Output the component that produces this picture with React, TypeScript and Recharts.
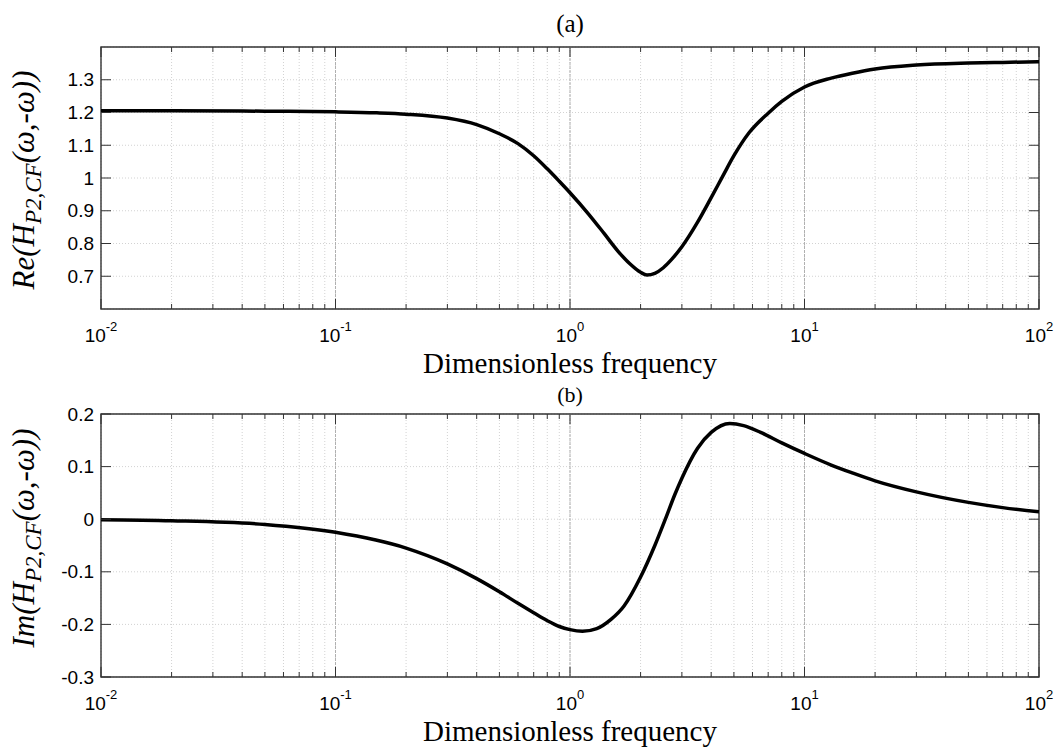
import {
  CartesianGrid,
  Line,
  LineChart,
  ReferenceArea,
  ReferenceLine,
  XAxis,
  YAxis,
} from "recharts";

// Re(H) curve, panel (a)
const reFreq = [
  0.01, 0.02, 0.05, 0.1, 0.15, 0.2, 0.3, 0.4, 0.5, 0.6, 0.7, 0.8, 0.9, 1.0,
  1.2, 1.4, 1.6, 1.8, 2.0, 2.13, 2.3, 2.5, 2.7, 3.0, 3.5, 4.0, 4.5, 5.0, 5.8,
  7, 8, 10, 13, 16, 20, 30, 50, 70, 100,
];
const reValues = [
  1.205, 1.205, 1.204, 1.202, 1.199, 1.195, 1.183, 1.163, 1.135, 1.105, 1.068,
  1.028, 0.99, 0.955, 0.89, 0.83, 0.777, 0.738, 0.712, 0.704, 0.709, 0.726,
  0.75, 0.79, 0.865, 0.94, 1.008, 1.068, 1.138, 1.198, 1.234, 1.278, 1.305,
  1.32, 1.333, 1.345, 1.351, 1.353, 1.355,
];

// Im(H) curve, panel (b)
const imFreq = [
  0.01, 0.02, 0.05, 0.1, 0.2, 0.3, 0.4, 0.5, 0.6, 0.7, 0.8, 0.9, 1.0, 1.13,
  1.3, 1.5, 1.7, 2.0, 2.3, 2.55, 2.8, 3.0, 3.5, 4.0, 4.8, 5.5, 6.5, 8, 10, 13,
  16, 20, 30, 50, 70, 100,
];
const imValues = [
  -0.001, -0.003, -0.01, -0.025, -0.055, -0.085, -0.113, -0.138, -0.16, -0.178,
  -0.193, -0.204, -0.21, -0.213, -0.208, -0.19, -0.165, -0.11, -0.05, 0.0,
  0.047, 0.078, 0.135, 0.165, 0.182, 0.178, 0.165, 0.145, 0.125, 0.103, 0.088,
  0.073, 0.052, 0.032, 0.022, 0.014,
];

const decades = [0.01, 0.1, 1, 10, 100];
const reTicks = [0.7, 0.8, 0.9, 1, 1.1, 1.2, 1.3];
const imTicks = [-0.3, -0.2, -0.1, 0, 0.1, 0.2];

// log-grid positions: 1..9 within each decade
const xTicks = decades
  .slice(0, -1)
  .flatMap((d) => [1, 2, 3, 4, 5, 6, 7, 8, 9].map((m) => +(d * m).toPrecision(3)))
  .concat([100]);

const reData = reFreq.map((f, i) => ({ f, v: reValues[i] }));
const imData = imFreq.map((f, i) => ({ f, v: imValues[i] }));

const W = 1059;
const LEFT = 101;
const RIGHT = 1039;
const AXIS = "#333";
const SANS = "Liberation Sans, Arial, sans-serif";
const SERIF = "Liberation Serif, Times New Roman, serif";

function XTick(props: any) {
  const { x, payload, top, bottom } = props;
  const lg = Math.log10(payload.value);
  const exp = Math.round(lg);
  const major = Math.abs(lg - exp) < 1e-6;
  const len = major ? 10 : 5;
  return (
    <g>
      <line x1={x} x2={x} y1={bottom} y2={bottom - len} stroke={AXIS} />
      <line x1={x} x2={x} y1={top} y2={top + len} stroke={AXIS} />
      {major && (
        <text
          x={x}
          y={bottom + 33}
          textAnchor="middle"
          fontFamily={SANS}
          fontSize={19}
          fill="#000"
        >
          10
          <tspan dy={-11} fontSize={13}>
            {exp}
          </tspan>
        </text>
      )}
    </g>
  );
}

function YTick(props: any) {
  const { y, payload } = props;
  return (
    <g>
      <line x1={LEFT} x2={LEFT + 10} y1={y} y2={y} stroke={AXIS} />
      <line x1={RIGHT} x2={RIGHT - 10} y1={y} y2={y} stroke={AXIS} />
      <text
        x={LEFT - 7}
        y={y}
        dy="0.35em"
        textAnchor="end"
        fontFamily={SANS}
        fontSize={19}
        fill="#000"
      >
        {String(payload.value)}
      </text>
    </g>
  );
}

function Panel({
  data,
  height,
  top,
  axisHeight,
  domain,
  ticks,
}: {
  data: { f: number; v: number }[];
  height: number;
  top: number;
  axisHeight: number;
  domain: [number, number];
  ticks: number[];
}) {
  const bottom = height - axisHeight;
  return (
    <LineChart
      width={W}
      height={height}
      data={data}
      margin={{ top, right: W - RIGHT, bottom: 0, left: 0 }}
    >
      <CartesianGrid stroke="#d2d2d2" strokeDasharray="1 2" />
      {[0.1, 1, 10].map((d) => (
        <ReferenceLine key={d} x={d} stroke="#b0b0b0" strokeDasharray="3 1" />
      ))}
      <XAxis
        dataKey="f"
        type="number"
        scale="log"
        domain={[0.01, 100]}
        ticks={xTicks}
        interval={0}
        height={axisHeight}
        axisLine={false}
        tickLine={false}
        tickSize={0}
        allowDataOverflow
        tick={(p: any) => <XTick {...p} top={top} bottom={bottom} />}
      />
      <YAxis
        type="number"
        domain={domain}
        ticks={ticks}
        interval={0}
        width={LEFT}
        axisLine={false}
        tickLine={false}
        tickSize={0}
        allowDataOverflow
        tick={(p: any) => <YTick {...p} />}
      />
      <Line
        type="monotone"
        dataKey="v"
        stroke="#000"
        strokeWidth={3.5}
        dot={false}
        isAnimationActive={false}
      />
      <ReferenceArea
        x1={0.01}
        x2={100}
        y1={domain[0]}
        y2={domain[1]}
        fill="none"
        stroke={AXIS}
        strokeWidth={1.4}
        ifOverflow="visible"
      />
    </LineChart>
  );
}

export default function App() {
  return (
    <div
      style={{
        position: "absolute",
        left: 0,
        top: 0,
        width: W,
        height: 749,
        background: "#fff",
        overflow: "hidden",
      }}
    >
      <div style={{ position: "absolute", left: 0, top: 0 }}>
        <Panel
          data={reData}
          height={370}
          top={47}
          axisHeight={61}
          domain={[0.6, 1.4]}
          ticks={reTicks}
        />
      </div>
      <div style={{ position: "absolute", left: 0, top: 370 }}>
        <Panel
          data={imData}
          height={379}
          top={44}
          axisHeight={72}
          domain={[-0.3, 0.2]}
          ticks={imTicks}
        />
      </div>
      <svg
        width={W}
        height={749}
        style={{ position: "absolute", left: 0, top: 0, pointerEvents: "none" }}
      >
        <g fontFamily={SERIF} fill="#000">
          <text x={570} y={32} textAnchor="middle" fontSize={25}>
            (a)
          </text>
          <text x={570} y={373} textAnchor="middle" fontSize={29}>
            Dimensionless frequency
          </text>
          <text x={570} y={402} textAnchor="middle" fontSize={22}>
            (b)
          </text>
          <text x={570} y={741} textAnchor="middle" fontSize={29}>
            Dimensionless frequency
          </text>
          <text
            transform="translate(34,180) rotate(-90)"
            textAnchor="middle"
            fontSize={31}
            fontStyle="italic"
          >
            Re(H
            <tspan dy={7} fontSize={23}>
              P2,CF
            </tspan>
            <tspan dy={-7}>(ω,-ω))</tspan>
          </text>
          <text
            transform="translate(34,538) rotate(-90)"
            textAnchor="middle"
            fontSize={31}
            fontStyle="italic"
          >
            Im(H
            <tspan dy={7} fontSize={23}>
              P2,CF
            </tspan>
            <tspan dy={-7}>(ω,-ω))</tspan>
          </text>
        </g>
      </svg>
    </div>
  );
}
